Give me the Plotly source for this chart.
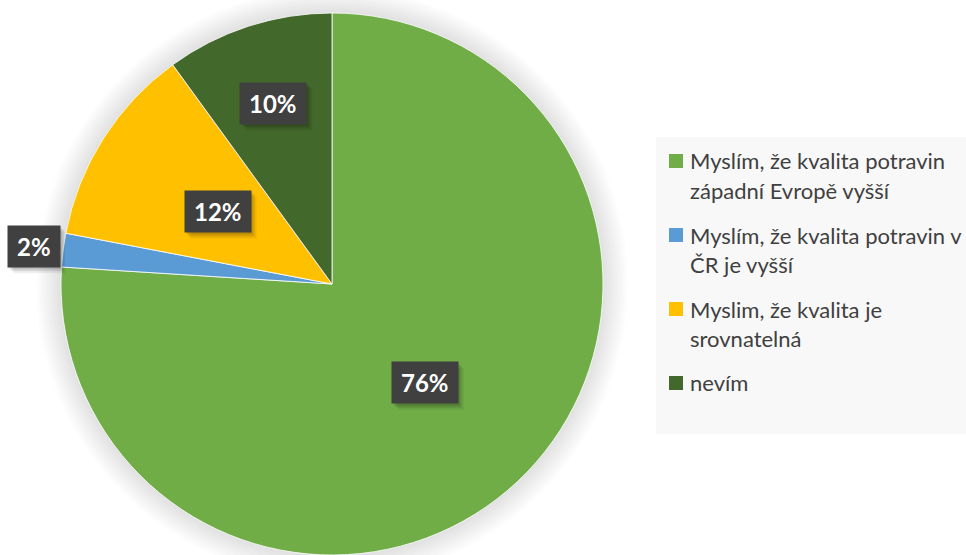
import math
import plotly.graph_objects as go

# Survey answers and their shares (%)
categories = [
    "Myslím, že kvalita potravin<br>západní Evropě vyšší",
    "Myslím, že kvalita potravin v<br>ČR je vyšší",
    "Myslim, že kvalita je<br>srovnatelná",
    "nevím",
]
shares = [76, 2, 12, 10]
colors = ["#70AD47", "#5B9BD5", "#FFC000", "#43682B"]

# Radial position of each percentage label as a fraction of the radius
label_radius = [0.5, 1.11, 0.5, 0.7]

W, H = 966, 555
dom_x = [61 / W, 603 / W]
dom_y = [0.0, 542 / H]

fig = go.Figure()
fig.add_trace(go.Pie(
    labels=[c.replace("<br>", " ") for c in categories],
    values=shares,
    sort=False,
    direction="clockwise",
    rotation=0,
    marker=dict(colors=colors, line=dict(color="rgba(255,255,255,0.8)", width=1)),
    textinfo="none",
    hoverinfo="label+percent",
    showlegend=False,
    domain=dict(x=dom_x, y=dom_y),
))

# Pie geometry in pixels
cx = (dom_x[0] + dom_x[1]) / 2 * W
cy = (1 - (dom_y[0] + dom_y[1]) / 2) * H
R = min((dom_x[1] - dom_x[0]) * W, (dom_y[1] - dom_y[0]) * H) / 2


def rect(x0, y0, x1, y1, **kw):
    """Rectangle given in pixel coordinates from the top-left corner."""
    return dict(type="rect", xref="paper", yref="paper",
                x0=x0 / W, x1=x1 / W, y0=1 - y1 / H, y1=1 - y0 / H, **kw)


shapes = []
# soft glow around the pie
for i in range(10):
    r = R + 2 + i * 2.5
    shapes.append(dict(
        type="circle", xref="paper", yref="paper", layer="below",
        x0=(cx - r) / W, x1=(cx + r) / W, y0=1 - (cy + r) / H, y1=1 - (cy - r) / H,
        fillcolor="rgba(0,0,0,0.012)", line=dict(width=0),
    ))

annotations = []
total = sum(shares)
acc = 0
label_font = dict(family="Lato", size=24, weight="bold", color="white")
for v, rf in zip(shares, label_radius):
    mid = (acc + v / 2) / total * 2 * math.pi
    acc += v
    px = cx + rf * R * math.sin(mid)
    py = cy - rf * R * math.cos(mid)
    txt = f"{v}%"
    # drop shadow behind the label box
    half_w = (24 + 14 * len(txt)) / 2
    half_h = 21
    for off, a in [(6, 0.06), (4, 0.10), (2, 0.12)]:
        shapes.append(rect(px - half_w + off, py - half_h + off,
                           px + half_w + off, py + half_h + off,
                           layer="above", fillcolor=f"rgba(0,0,0,{a})",
                           line=dict(width=0)))
    annotations.append(dict(
        x=px / W, y=1 - py / H, xref="paper", yref="paper",
        xanchor="center", yanchor="middle", showarrow=False,
        text=f"\u2009{txt}\u2009", borderpad=6, bgcolor="#404040", font=label_font,
    ))

# Legend panel
shapes.append(rect(656, 137, W, 434, layer="below", fillcolor="#F8F8F8",
                   line=dict(width=0)))
line_pitch = 29
entry_gap = 16
y = 161
for cat, col in zip(categories, colors):
    shapes.append(rect(669, y - 7, 683, y + 7, fillcolor=col, line=dict(width=0)))
    for ln in cat.split("<br>"):
        annotations.append(dict(
            x=688 / W, y=1 - y / H, xref="paper", yref="paper", xanchor="left",
            yanchor="middle", showarrow=False, text=ln,
            font=dict(family="Lato", size=22, color="#404040"),
        ))
        y += line_pitch
    y += entry_gap

fig.update_layout(
    width=W, height=H,
    margin=dict(l=0, r=0, t=0, b=0),
    paper_bgcolor="white",
    plot_bgcolor="white",
    shapes=shapes,
    annotations=annotations,
)

fig.write_html("out.html")
